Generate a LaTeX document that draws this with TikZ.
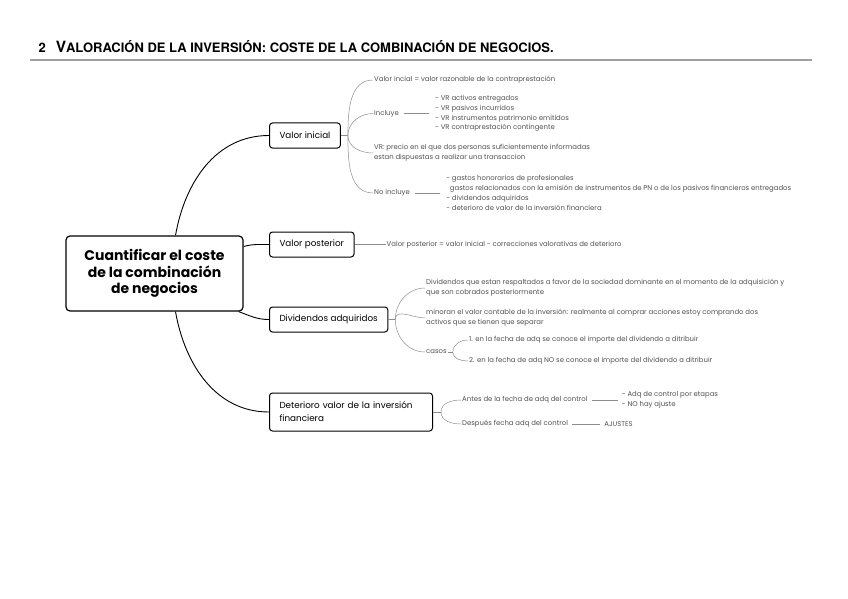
\documentclass[tikz,border=0pt]{standalone}
\usepackage{fontspec}
\setmainfont{Poppins}
\newfontfamily\titlefont{TeX Gyre Heros}
\usetikzlibrary{positioning,calc}
\definecolor{leafgrey}{HTML}{505050}
\definecolor{linkgrey}{HTML}{8C8C8C}
\definecolor{rulegrey}{HTML}{A0A0A0}
\tikzset{
  topic/.style={draw=black, line width=1.2pt, rounded corners=4pt, fill=white, align=center,
    font=\bfseries\fontsize{14}{16.5}\selectfont, minimum width=177pt, minimum height=75pt},
  branch/.style={draw=black, line width=1pt, rounded corners=3pt, fill=white, anchor=west,
    align=left, font=\fontsize{8.8}{13}\selectfont, inner xsep=10pt, minimum height=25pt},
  leaf/.style={anchor=west, align=left, text=leafgrey, font=\fontsize{6.9}{9.8}\selectfont, inner sep=1pt},
  mainlink/.style={draw=black, line width=0.9pt},
  link/.style={draw=linkgrey, line width=0.5pt}
}

\begin{document}
\begin{tikzpicture}[x=1pt, y=-1pt, node distance=20pt]
    \useasboundingbox (0,0) rectangle (848,599);

    % titulo
    \node[anchor=west, font=\titlefont\bfseries\fontsize{13}{14}\selectfont] (titulo) at (35,47)
      {2\hspace{10pt}{\fontsize{15.5}{14}\selectfont V}ALORACIÓN DE LA INVERSIÓN: COSTE DE LA COMBINACIÓN DE NEGOCIOS.};
    \draw[rulegrey, line width=1.3pt] (30,60) -- (812,60);

    % ramas principales
    \node[topic] (coste) at (154.5,273.5) {Cuantificar el coste\\de la combinación\\de negocios};
    \node[branch] (inicial) at (269,135.5) {Valor inicial};
    \node[branch] (posterior) at (269,244.5) {Valor posterior};
    \node[branch] (dividendos) at (269,319.5) {Dividendos adquiridos};
    \node[branch, minimum height=38pt, text width=143pt] (deterioro) at (269,412) {Deterioro valor de la inversión\\financiera};

    \draw[mainlink] ($(coste.north)+(21,0)$) to[out=80,in=180] (inicial.west);
    \draw[mainlink] ($(coste.east)+(0,-27)$) to[out=15,in=180] (posterior.west);
    \draw[mainlink] ($(coste.south east)+(-5,0)$) to[out=-20,in=180] (dividendos.west);
    \draw[mainlink] ($(coste.south)+(21,0)$) to[out=-80,in=180] (deterioro.west);

    % valor inicial
    \coordinate[right=7pt of inicial] (inicialj);
    \node[leaf] (razonable) at (373,80) {Valor incial = valor razonable de la contraprestación};
    \node[leaf] (incluye) at (373,113.5) {Incluye};
    \node[leaf, right=34pt of incluye] (incluyelist) {- VR activos entregados\\- VR pasivos incurridos\\- VR instrumentos patrimonio emitidos\\- VR contraprestación contingente};
    \node[leaf] (vr) at (373,153) {VR: precio en el que dos personas suficientemente informadas\\estan dispuestas a realizar una transaccion};
    \node[leaf] (noincluye) at (373,193) {No incluye};
    \node[leaf, right=34pt of noincluye] (noincluyelist) {- gastos honorarios de profesionales\\\ \ gastos relacionados con la emisión de instrumentos de PN o de los pasivos financieros entregados\\- dividendos adquiridos\\- deterioro de valor de la inversión financiera};

    \draw[link] (inicial) -- (inicialj);
    \draw[link] (inicialj) to[out=90,in=180] (razonable.west);
    \draw[link] (inicialj) to[out=90,in=180] (incluye.west);
    \draw[link] (inicialj) to[out=-90,in=180] (vr.west);
    \draw[link] (inicialj) to[out=-90,in=180] (noincluye.west);
    \draw[link, shorten <=4pt, shorten >=5pt] (incluye) -- (incluyelist);
    \draw[link, shorten <=4pt, shorten >=5pt] (noincluye) -- (noincluyelist);

    % valor posterior
    \node[leaf, right=31pt of posterior] (vposterior) {Valor posterior = valor inicial - correcciones valorativas de deterioro};
    \draw[link] (posterior) -- (vposterior);

    % dividendos adquiridos
    \coordinate[right=7pt of dividendos] (dividendosj);
    \node[leaf] (respaltados) at (425,288) {Dividendos que estan respaltados a favor de la sociedad dominante en el momento de la adquisición y\\que son cobrados posteriormente};
    \node[leaf] (minoran) at (425,318) {minoran el valor contable de la inversión: realmente al comprar acciones estoy comprando dos\\activos que se tienen que separar};
    \node[leaf] (casos) at (425,352) {casos};
    \coordinate[right=5pt of casos] (casosj);
    \node[leaf] (caso1) at (468,340) {1. en la fecha de adq se conoce el importe del dividendo a ditribuir};
    \node[leaf] (caso2) at (468,361) {2. en la fecha de adq NO se conoce el importe del dividendo a ditribuir};

    \draw[link] (dividendos) -- (dividendosj);
    \draw[link] (dividendosj) to[out=90,in=180] (respaltados.west);
    \draw[link] (dividendosj) to[out=90,in=180] (minoran.west);
    \draw[link] (dividendosj) to[out=-90,in=180] (casos.west);
    \draw[link] (casos) -- (casosj);
    \draw[link] (casosj) to[out=90,in=180] (caso1.west);
    \draw[link] (casosj) to[out=-90,in=180] (caso2.west);

    % deterioro
    \coordinate[right=8pt of deterioro] (deteriorj);
    \node[leaf] (antes) at (461,400) {Antes de la fecha de adq del control};
    \node[leaf, right=32pt of antes] (antesl) {- Adq de control por etapas\\- NO hay ajuste};
    \node[leaf] (despues) at (461,424) {Después fecha adq del control};
    \node[leaf, right=34pt of despues] (ajustes) {AJUSTES};

    \draw[link] (deterioro) -- (deteriorj);
    \draw[link] (deteriorj) to[out=90,in=180] (antes.west);
    \draw[link] (deteriorj) to[out=-90,in=180] (despues.west);
    \draw[link, shorten <=3pt, shorten >=3pt] (antes) -- (antesl);
    \draw[link, shorten <=3pt, shorten >=3pt] (despues) -- (ajustes);

  \end{tikzpicture}
\end{document}
